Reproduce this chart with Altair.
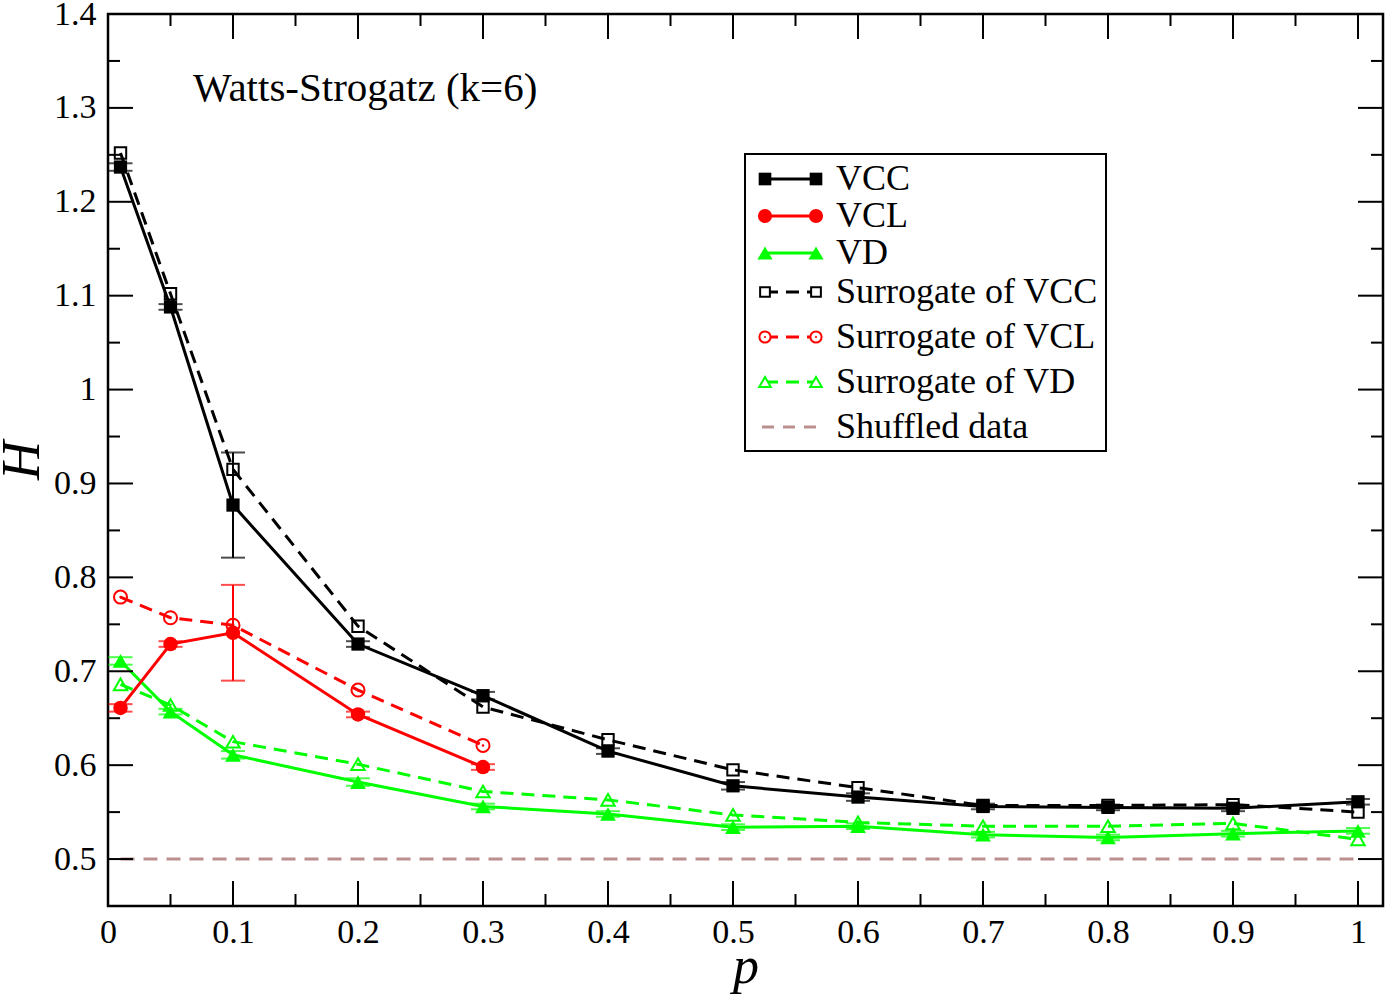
import altair as alt
import pandas as pd

# ---- data -------------------------------------------------------------
P_FULL = [0.01, 0.05, 0.1, 0.2, 0.3, 0.4, 0.5, 0.6, 0.7, 0.8, 0.9, 1.0]
P_VCL = [0.01, 0.05, 0.1, 0.2, 0.3]

VCC = [1.237, 1.088, 0.877, 0.729, 0.674, 0.615, 0.578, 0.566, 0.556, 0.555, 0.554, 0.561]
VCC_ERR = [0.004, 0.003, 0.056, 0.003, 0.004, 0.003, 0.004, 0.004, 0.003, 0.003, 0.003, 0.003]
VCL = [0.661, 0.729, 0.741, 0.654, 0.598]
VCL_ERR = [0.004, 0.003, 0.051, 0.003, 0.003]
VD = [0.711, 0.657, 0.611, 0.582, 0.556, 0.548, 0.534, 0.535, 0.526, 0.523, 0.527, 0.530]
VD_ERR = [0.004, 0.003, 0.004, 0.004, 0.003, 0.003, 0.003, 0.003, 0.003, 0.003, 0.003, 0.003]

SUR_VCC = [1.252, 1.102, 0.915, 0.748, 0.662, 0.627, 0.595, 0.576, 0.557, 0.557, 0.558, 0.550]
SUR_VCL = [0.779, 0.757, 0.749, 0.680, 0.621]
SUR_VD = [0.686, 0.664, 0.625, 0.601, 0.572, 0.563, 0.547, 0.539, 0.535, 0.535, 0.538, 0.521]

SHUFFLED_P = [0.01, 1.0]
SHUFFLED_H = [0.5, 0.5]

X_MAJOR = [0, 0.1, 0.2, 0.3, 0.4, 0.5, 0.6, 0.7, 0.8, 0.9, 1.0]
X_MINOR = [0.05, 0.15, 0.25, 0.35, 0.45, 0.55, 0.65, 0.75, 0.85, 0.95]
Y_MAJOR = [0.5, 0.6, 0.7, 0.8, 0.9, 1.0, 1.1, 1.2, 1.3, 1.4]
Y_MINOR = [0.55, 0.65, 0.75, 0.85, 0.95, 1.05, 1.15, 1.25, 1.35]

TITLE = "Watts-Strogatz (k=6)"

LEGEND_LABELS = ["VCC", "VCL", "VD", "Surrogate of VCC", "Surrogate of VCL",
                 "Surrogate of VD", "Shuffled data"]

# ---- styling ----------------------------------------------------------
W, H = 1275, 892
SERIF = "Liberation Serif"
BLACK, RED, GREEN, BROWN = "#000000", "#ff0000", "#00ff00", "#bc8f8f"
DASH = [13, 8]

xs = alt.Scale(domain=[0, 1.02], nice=False, zero=False)
ys = alt.Scale(domain=[0.45, 1.4], nice=False, zero=False)

x_axis = alt.Axis(values=X_MAJOR, format="~g", domain=False, ticks=False, grid=False,
                  labelFont=SERIF, labelFontSize=34, labelColor="black", labelPadding=9,
                  labelOverlap=False, labelFlush=False,
                  title="p", titleFont=SERIF, titleFontStyle="italic", titleFontWeight="normal",
                  titleFontSize=52, titleColor="black", titleX=W / 2, titleY=76,
                  titleAlign="center", titleBaseline="alphabetic")
y_axis = alt.Axis(values=Y_MAJOR, format="~g", domain=False, ticks=False, grid=False,
                  labelFont=SERIF, labelFontSize=34, labelColor="black", labelPadding=12,
                  labelOverlap=False, labelFlush=False,
                  title="H", titleFont=SERIF, titleFontStyle="italic", titleFontWeight="normal",
                  titleFontSize=54, titleColor="black", titleX=-70, titleY=H / 2,
                  titleAlign="center", titleBaseline="alphabetic", titleAngle=-90)


def X(field):
    return alt.X(field, type="quantitative", scale=xs, axis=x_axis)


def Y(field):
    return alt.Y(field, type="quantitative", scale=ys, axis=y_axis)


one = pd.DataFrame({"k": [0]})
layers = []

# shuffled-data reference level
shuf = pd.DataFrame({"p": SHUFFLED_P, "H": SHUFFLED_H})
layers.append(alt.Chart(shuf).mark_line(color=BROWN, strokeWidth=3, strokeDash=[14, 9])
              .encode(x=X("p"), y=Y("H")))


def series(ps, hs, color, shape, filled, dashed, errs=None):
    df = pd.DataFrame({"p": ps, "H": hs})
    out = []
    line_kw = dict(color=color, strokeWidth=3)
    if dashed:
        line_kw["strokeDash"] = DASH
    out.append(alt.Chart(df).mark_line(**line_kw).encode(x=X("p"), y=Y("H")))
    if errs is not None:
        edf = pd.DataFrame({"p": ps,
                            "lo": [h - e for h, e in zip(hs, errs)],
                            "hi": [h + e for h, e in zip(hs, errs)]})
        out.append(alt.Chart(edf).mark_rule(color=color, strokeWidth=2)
                   .encode(x=X("p"), y=Y("lo"), y2=alt.Y2("hi")))
        caps = pd.DataFrame({"p": list(ps) + list(ps),
                             "H": list(edf["lo"]) + list(edf["hi"])})
        out.append(alt.Chart(caps).mark_tick(color=color, orient="horizontal",
                                             size=24, thickness=2)
                   .encode(x=X("p"), y=Y("H")))
    if filled:
        size = {"square": 175, "circle": 210, "triangle-up": 250}[shape]
        out.append(alt.Chart(df).mark_point(shape=shape, filled=True, color=color,
                                            size=size, opacity=1)
                   .encode(x=X("p"), y=Y("H")))
    else:
        size = {"square": 130, "circle": 170, "triangle-up": 180}[shape]
        out.append(alt.Chart(df).mark_point(shape=shape, filled=False, color=color,
                                            strokeWidth=2, size=size, opacity=1)
                   .encode(x=X("p"), y=Y("H")))
        if shape == "circle":
            out.append(alt.Chart(df).mark_point(shape="circle", filled=True, color=color,
                                                size=6, opacity=1)
                       .encode(x=X("p"), y=Y("H")))
    return out


layers += series(P_FULL, SUR_VD, GREEN, "triangle-up", False, True)
layers += series(P_VCL, SUR_VCL, RED, "circle", False, True)
layers += series(P_FULL, SUR_VCC, BLACK, "square", False, True)
layers += series(P_FULL, VD, GREEN, "triangle-up", True, False, VD_ERR)
layers += series(P_VCL, VCL, RED, "circle", True, False, VCL_ERR)
layers += series(P_FULL, VCC, BLACK, "square", True, False, VCC_ERR)

# inward ticks on all four sides
MAJ, MIN = 25, 12
for vals, ln in ((X_MAJOR, MAJ), (X_MINOR, MIN)):
    d = pd.DataFrame({"p": vals})
    layers.append(alt.Chart(d).mark_rule(color="black", strokeWidth=2)
                  .encode(x=X("p"), y=alt.value(H), y2=alt.value(H - ln)))
    layers.append(alt.Chart(d).mark_rule(color="black", strokeWidth=2)
                  .encode(x=X("p"), y=alt.value(0), y2=alt.value(ln)))
for vals, ln in ((Y_MAJOR, MAJ), (Y_MINOR, MIN)):
    d = pd.DataFrame({"H": vals})
    layers.append(alt.Chart(d).mark_rule(color="black", strokeWidth=2)
                  .encode(y=Y("H"), x=alt.value(0), x2=alt.value(ln)))
    layers.append(alt.Chart(d).mark_rule(color="black", strokeWidth=2)
                  .encode(y=Y("H"), x=alt.value(W), x2=alt.value(W - ln)))

# panel title
layers.append(alt.Chart(one).mark_text(text=TITLE, font=SERIF, fontSize=41, align="left",
                                       baseline="middle", color="black")
              .encode(x=alt.value(85), y=alt.value(75)))

# legend box
LX0, LX1, LY0, LY1 = 637, 998, 140, 437
layers.append(alt.Chart(one).mark_rect(fill="white", stroke="black", strokeWidth=2)
              .encode(x=alt.value(LX0), x2=alt.value(LX1), y=alt.value(LY0), y2=alt.value(LY1)))

ROW_Y = [165, 202, 239, 278, 323, 368, 413]
LEG_STYLE = [
    (BLACK, "square", True, None),
    (RED, "circle", True, None),
    (GREEN, "triangle-up", True, None),
    (BLACK, "square", False, DASH),
    (RED, "circle", False, DASH),
    (GREEN, "triangle-up", False, DASH),
    (BROWN, None, False, [12, 9]),
]
for label, ry, (color, shape, filled, dash) in zip(LEGEND_LABELS, ROW_Y, LEG_STYLE):
    rule_kw = dict(color=color, strokeWidth=3)
    if dash:
        rule_kw["strokeDash"] = dash
    x_start = 657 if shape else 654
    layers.append(alt.Chart(one).mark_rule(**rule_kw)
                  .encode(x=alt.value(x_start), x2=alt.value(710), y=alt.value(ry)))
    if shape:
        for mx in (657, 708):
            if filled:
                sz = {"square": 160, "circle": 200, "triangle-up": 230}[shape]
                layers.append(alt.Chart(one).mark_point(shape=shape, filled=True, color=color,
                                                        size=sz, opacity=1)
                              .encode(x=alt.value(mx), y=alt.value(ry)))
            else:
                sz = {"square": 95, "circle": 125, "triangle-up": 135}[shape]
                layers.append(alt.Chart(one).mark_point(shape=shape, filled=False, color=color,
                                                        strokeWidth=2, size=sz, opacity=1,
                                                        fill="white", fillOpacity=1)
                              .encode(x=alt.value(mx), y=alt.value(ry)))
                if shape == "circle":
                    layers.append(alt.Chart(one).mark_point(shape="circle", filled=True,
                                                            color=color, size=5, opacity=1)
                                  .encode(x=alt.value(mx), y=alt.value(ry)))
    layers.append(alt.Chart(one).mark_text(text=label, font=SERIF, fontSize=36, align="left",
                                           baseline="middle", color="black")
                  .encode(x=alt.value(728), y=alt.value(ry)))

chart = alt.layer(*layers).properties(
    width=W, height=H, autosize=alt.AutoSizeParams(type="none"),
    padding={"left": 108, "top": 14, "right": 3, "bottom": 88},
    background="white",
).configure_view(stroke="black", strokeWidth=2.5)

chart.save("out.html", embed_options={"renderer": "svg", "actions": False})
